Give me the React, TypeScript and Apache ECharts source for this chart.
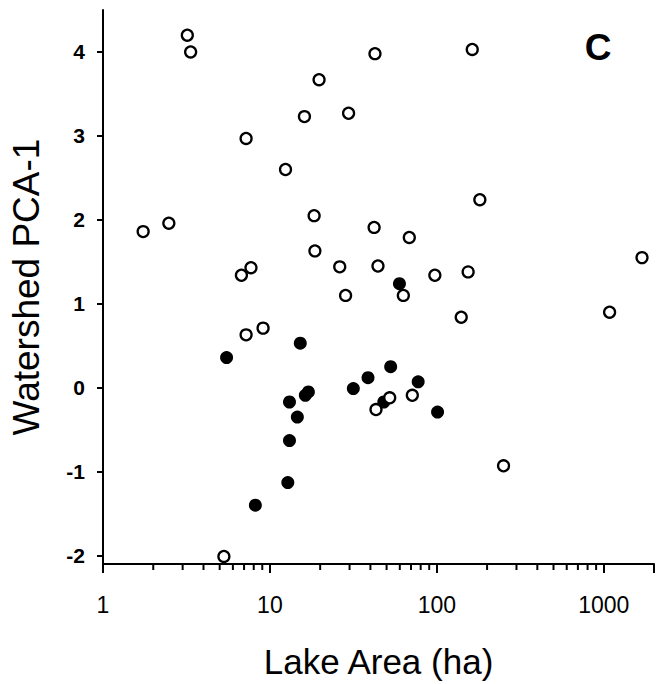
import React, { useEffect, useRef } from 'react';
import * as echarts from 'echarts';

// Lake area (ha) vs Watershed PCA-1 — open circles
const openLakes: [number, number][] = [
  [3.2, 4.2], [3.35, 4.0], [19.7, 3.67], [16.1, 3.23], [7.2, 2.97], [12.4, 2.6],
  [18.4, 2.05], [18.6, 1.63], [1.74, 1.86], [2.48, 1.96], [6.75, 1.34], [7.7, 1.43],
  [42.6, 3.98], [163, 4.03], [29.6, 3.27], [181, 2.24], [42.1, 1.91], [68.4, 1.79],
  [26.2, 1.44], [44.4, 1.45], [97.3, 1.34], [154, 1.38], [1695, 1.55], [28.4, 1.1],
  [63, 1.1], [140, 0.84], [1084, 0.9], [52.2, -0.12], [43.2, -0.26], [71.3, -0.09],
  [251, -0.93], [7.2, 0.63], [9.1, 0.71], [5.3, -2.01],
];

// filled circles
const filledLakes: [number, number][] = [
  [59.7, 1.24], [52.9, 0.25], [38.7, 0.12], [31.6, -0.01], [77.3, 0.07], [101, -0.29],
  [48.1, -0.17], [5.5, 0.36], [15.2, 0.53], [16.3, -0.09], [17.0, -0.05], [13.1, -0.17],
  [14.6, -0.35], [13.1, -0.63], [12.8, -1.13], [8.18, -1.4],
];

const xMajorTicks = [1, 10, 100, 1000];
const xMinorTicks = [
  2, 3, 4, 5, 6, 7, 8, 9,
  20, 30, 40, 50, 60, 70, 80, 90,
  200, 300, 400, 500, 600, 700, 800, 900,
];
const yTickValues = [-2, -1, 0, 1, 2, 3, 4];

const X_MIN = 1;
const X_MAX = 2000;
const Y_MIN = -2.1;
const Y_MAX = 4.5;

const FONT = 'Liberation Sans, Arial, Helvetica, sans-serif';

export default function App() {
  const ref = useRef<HTMLDivElement>(null);

  useEffect(() => {
    if (!ref.current) return;
    const chart = echarts.init(ref.current, undefined, { renderer: 'svg' });
    chart.setOption({
      animation: false,
      backgroundColor: '#ffffff',
      grid: { left: 97, right: 0, top: 10, bottom: 119, containLabel: false },
      xAxis: {
        type: 'log',
        logBase: 10,
        min: X_MIN,
        max: X_MAX,
        name: 'Lake Area (ha)',
        nameLocation: 'middle',
        nameGap: 80,
        nameTextStyle: { fontFamily: FONT, fontSize: 35, color: '#000' },
        axisLine: { show: true, onZero: false, lineStyle: { color: '#000', width: 2 } },
        axisTick: { show: true, inside: false, length: 9, lineStyle: { color: '#000', width: 2 } },
        axisLabel: {
          margin: 29,
          fontFamily: FONT,
          fontSize: 23,
          color: '#000',
          formatter: (v: number) => {
            const r = Math.round(v);
            return xMajorTicks.includes(r) ? String(r) : '';
          },
        },
        splitLine: { show: false },
        minorTick: { show: false },
      },
      yAxis: {
        type: 'value',
        min: Y_MIN,
        max: Y_MAX,
        name: 'Watershed PCA-1',
        nameLocation: 'middle',
        nameGap: 58,
        nameTextStyle: { fontFamily: FONT, fontSize: 37, color: '#000' },
        axisLine: { show: true, onZero: false, lineStyle: { color: '#000', width: 2 } },
        axisTick: { show: true, inside: false, length: 6, customValues: yTickValues, lineStyle: { color: '#000', width: 2 } },
        axisLabel: {
          customValues: yTickValues,
          margin: 18,
          fontFamily: FONT,
          fontSize: 21,
          fontWeight: 'bold',
          color: '#000',
        },
        splitLine: { show: false },
      },
      graphic: [
        {
          type: 'text',
          x: 598,
          y: 47,
          style: {
            text: 'C',
            font: `bold 37px ${FONT}`,
            fill: '#000',
            align: 'center',
            verticalAlign: 'middle',
          },
        },
      ],
      series: [
        {
          name: 'minor ticks',
          type: 'scatter',
          silent: true,
          clip: false,
          symbol: 'rect',
          symbolSize: [2, 6],
          symbolOffset: [0, 3],
          itemStyle: { color: '#000', opacity: 1 },
          data: xMinorTicks.map((v) => [v, Y_MIN]),
          z: 5,
        },
        {
          name: 'filled',
          type: 'scatter',
          symbol: 'circle',
          symbolSize: 13,
          itemStyle: { color: '#000', opacity: 1 },
          data: filledLakes,
          z: 2,
        },
        {
          name: 'open',
          type: 'scatter',
          symbol: 'circle',
          symbolSize: 11,
          itemStyle: { color: '#fff', borderColor: '#000', borderWidth: 2.3, opacity: 1 },
          data: openLakes,
          z: 3,
        },
      ],
    });
    return () => chart.dispose();
  }, []);

  return (
    <div
      ref={ref}
      style={{ position: 'fixed', left: 0, top: 0, width: 657, height: 684, background: '#fff' }}
    />
  );
}
